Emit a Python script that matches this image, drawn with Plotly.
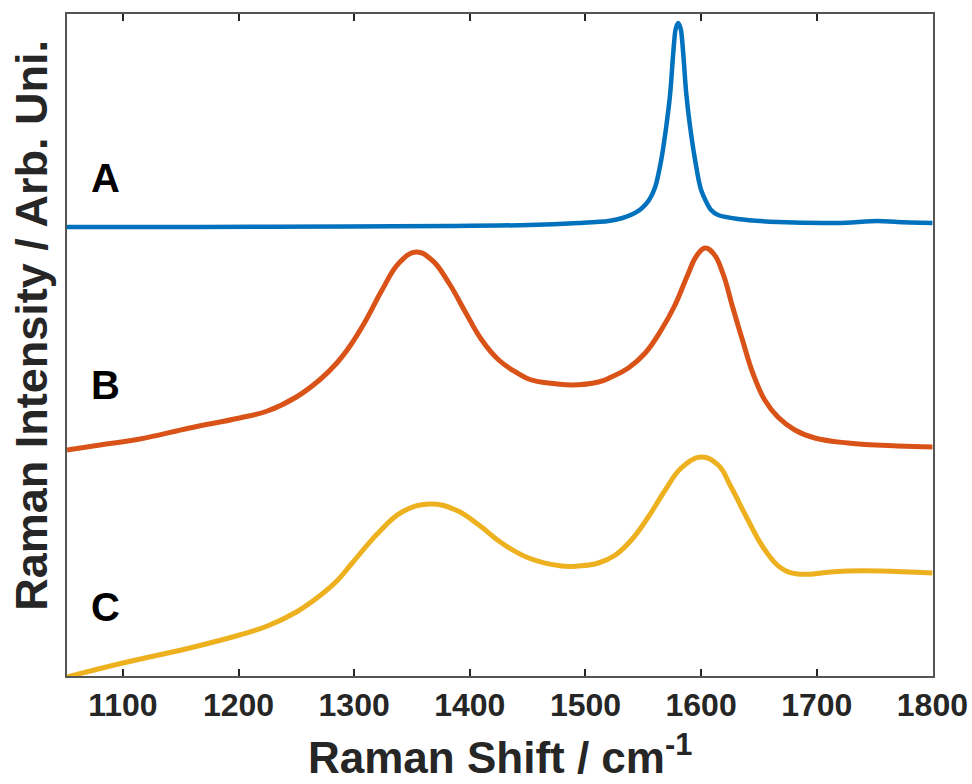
import plotly.graph_objects as go

# Raman shift (cm^-1) and intensity (arbitrary units, offset-stacked)
xA = [1051.7, 1166.4, 1295.7, 1381.9, 1450.9, 1494.0, 1519.8, 1532.0, 1541.0, 1548.0,
      1555.0, 1560.3, 1565.5, 1569.8, 1573.3, 1575.9, 1578.0, 1580.2, 1582.4, 1584.5,
      1587.1, 1590.5, 1594.8, 1600.0, 1608.6, 1614.7, 1631.9, 1666.4, 1718.1, 1752.6,
      1769.8, 1800.0]
yA = [449, 449, 449.5, 450, 451, 453, 455, 458, 462, 467,
      476, 489, 516, 549, 583, 623, 647, 653, 647, 623,
      583, 549, 516, 486, 466, 461, 457, 454, 453, 455,
      454, 453]

xB = [1051.7, 1080.2, 1114.7, 1157.8, 1200.9, 1225.0, 1250.0, 1270.0, 1285.0, 1297.0,
      1310.3, 1324.1, 1338.8, 1353.4, 1367.2, 1381.9, 1396.6, 1410.3, 1425.0, 1439.7,
      1453.4, 1468.1, 1487.9, 1511.2, 1522.4, 1537.1, 1551.7, 1565.5, 1577.0, 1588.0,
      1596.0, 1603.4, 1611.0, 1619.0, 1627.0, 1636.0, 1645.0, 1655.0, 1666.4, 1681.0,
      1698.3, 1726.7, 1769.8, 1800.0]
yB = [226, 231, 237, 248, 258, 265, 279, 296, 313, 331,
      356, 386, 413, 424, 416, 393, 363, 336, 316, 304,
      296, 293, 291, 294, 299, 308, 323, 346, 370, 400,
      420, 428, 422, 402, 370, 335, 302, 276, 259, 246,
      238, 233, 230, 229]

xC = [1051.7, 1100.0, 1157.8, 1200.9, 1225.0, 1250.0, 1270.0, 1285.0, 1298.3, 1321.6, 1341.4,
      1364.7, 1387.9, 1407.8, 1427.6, 1450.9, 1479.3, 1494.0, 1511.2, 1525.9, 1539.7,
      1554.3, 1569.0, 1582.8, 1600.0, 1614.7, 1625.9, 1640.5, 1655.2, 1669.0, 1683.6,
      1712.1, 1726.7, 1755.2, 1800.0]
yC = [-1, 13, 28, 41, 50, 64, 80, 95, 113, 144, 164,
      172, 166, 151, 133, 118, 110, 110, 113, 121, 136,
      159, 186, 208, 219, 211, 189, 156, 126, 108, 102,
      104, 105, 105, 103]

labels = ["A", "B", "C"]
label_y = [498, 291, 69]
xticks = [1100, 1200, 1300, 1400, 1500, 1600, 1700, 1800]

FONT = "Liberation Sans, Arial, sans-serif"
fig = go.Figure()
fig.add_trace(go.Scatter(x=xA, y=yA, mode="lines", line=dict(color="#0072BD", width=4.5, shape="spline", smoothing=0.8)))
fig.add_trace(go.Scatter(x=xB, y=yB, mode="lines", line=dict(color="#D95319", width=5, shape="spline", smoothing=1.2)))
fig.add_trace(go.Scatter(x=xC, y=yC, mode="lines", line=dict(color="#EDB120", width=5, shape="spline", smoothing=1.2)))

for lab, ly in zip(labels, label_y):
    fig.add_annotation(x=1085, y=ly, xref="x", yref="y", text="<b>%s</b>" % lab, showarrow=False,
                       font=dict(family=FONT, size=40, color="black"))

fig.add_annotation(x=-0.0404, y=0.529, xref="paper", yref="paper", xanchor="center", yanchor="middle",
                   text="<b>Raman Intensity / Arb. Uni.</b>",
                   textangle=-90, showarrow=False, font=dict(family=FONT, size=45, color="#262626"))
fig.add_annotation(x=0.5, y=-0.119, xref="paper", yref="paper", xanchor="center", yanchor="middle",
                   text="<b>Raman Shift / cm<sup>-1</sup></b>",
                   showarrow=False, font=dict(family=FONT, size=44, color="#262626"))

fig.update_layout(
    width=972, height=784, margin=dict(l=67, r=39, t=14, b=108, autoexpand=False),
    plot_bgcolor="white", paper_bgcolor="white", showlegend=False,
    xaxis=dict(range=[1051.7, 1800.5], tickvals=xticks, ticktext=[str(t) for t in xticks],
               ticks="inside", ticklen=7, tickwidth=1.5, tickcolor="#262626",
               showline=True, linecolor="#555555", linewidth=1.5, mirror="ticks",
               showgrid=False, zeroline=False, automargin=False,
               tickfont=dict(family=FONT, size=32, color="#262626", weight="bold")),
    yaxis=dict(range=[0, 662], showticklabels=False, ticks="", showline=True, linecolor="#555555",
               linewidth=1.5, mirror=True, showgrid=False, zeroline=False, automargin=False),
)
fig.write_html("out.html")
